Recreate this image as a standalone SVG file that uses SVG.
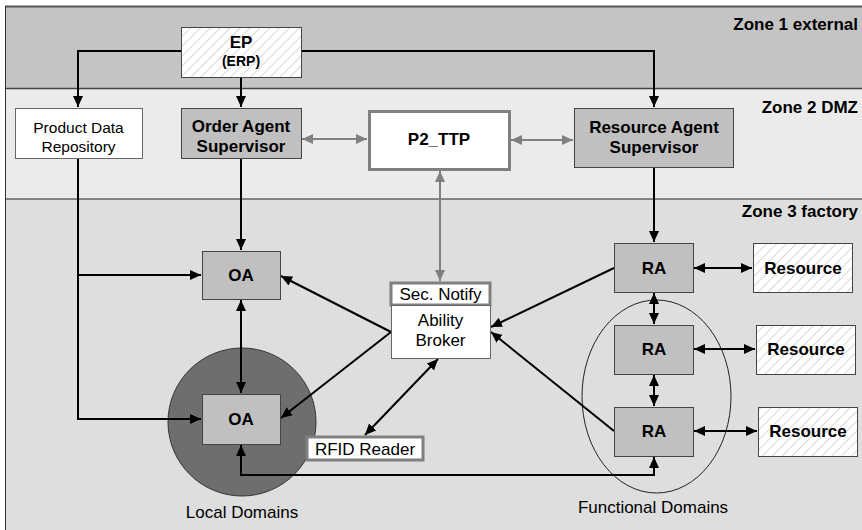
<svg xmlns="http://www.w3.org/2000/svg" width="862" height="530" viewBox="0 0 862 530">
<style>
text{font-family:"Liberation Sans",Arial,sans-serif;fill:#000}
.b{font-weight:bold;font-size:17px}
.n{font-size:17px}
.z{font-weight:bold;font-size:17px;text-anchor:end}
.c{text-anchor:middle}
.k{fill:none;stroke:#000;stroke-width:2}
.g{fill:none;stroke:#808080;stroke-width:2}
.node{fill:#c0c0c0;stroke:#444;stroke-width:1}
.white{fill:#fff;stroke:#666;stroke-width:1}
.hatch{fill:url(#hp);stroke:#444;stroke-width:1}
</style>
<defs>
<pattern id="hp" patternUnits="userSpaceOnUse" width="7" height="7" patternTransform="rotate(45)">
<rect width="7" height="7" fill="#fff"/>
<line x1="0" y1="0" x2="0" y2="7" stroke="#b0b0b0" stroke-width="1"/>
</pattern>
<marker id="ak" markerUnits="userSpaceOnUse" markerWidth="12" markerHeight="12" refX="11" refY="6" orient="auto-start-reverse" viewBox="0 0 12 12">
<path d="M0,1 L11,6 L0,11 z" fill="#000"/>
</marker>
<marker id="ag" markerUnits="userSpaceOnUse" markerWidth="12" markerHeight="12" refX="11" refY="6" orient="auto-start-reverse" viewBox="0 0 12 12">
<path d="M0,1 L11,6 L0,11 z" fill="#808080"/>
</marker>
</defs>
<rect width="862" height="530" fill="#fff"/>
<g id="zones">
<rect x="5" y="6.5" width="860" height="82" fill="#c4c4c4"/>
<rect x="5" y="88.5" width="860" height="110.5" fill="#ebebeb"/>
<rect x="5" y="199" width="860" height="335" fill="#dedede"/>
<line x1="5" y1="6.5" x2="862" y2="6.5" stroke="#555" stroke-width="2"/>
<line x1="5" y1="88.5" x2="862" y2="88.5" stroke="#444" stroke-width="1.5"/>
<line x1="5" y1="199" x2="862" y2="199" stroke="#222" stroke-width="1"/>
<line x1="5.5" y1="6" x2="5.5" y2="530" stroke="#333" stroke-width="1"/>
<text class="z" x="858" y="30">Zone 1 external</text>
<text class="z" x="858" y="113">Zone 2 DMZ</text>
<text class="z" x="858" y="217">Zone 3 factory</text>
</g>
<g id="local-domains">
<circle cx="242" cy="422" r="74" fill="#6e6e6e" stroke="#333" stroke-width="1"/>
<text class="n c" x="242" y="518">Local Domains</text>
</g>
<g id="functional-domains">
<ellipse cx="656.5" cy="396.5" rx="74.5" ry="96.5" fill="none" stroke="#222" stroke-width="1"/>
<text class="n c" x="653" y="513">Functional Domains</text>
</g>
<g id="connectors">
<path class="k" d="M181,51 H78 V107" marker-end="url(#ak)"/>
<path class="k" d="M241,77 V107" marker-end="url(#ak)"/>
<path class="k" d="M301,51 H654 V107" marker-end="url(#ak)"/>
<path class="g" d="M302,139 H367" marker-start="url(#ag)" marker-end="url(#ag)"/>
<path class="g" d="M511,140 H573" marker-start="url(#ag)" marker-end="url(#ag)"/>
<path class="g" d="M440,171 V281" marker-start="url(#ag)" marker-end="url(#ag)"/>
<path class="k" d="M241,158 V250" marker-end="url(#ak)"/>
<path class="k" d="M78,158 V419 H201" marker-end="url(#ak)"/>
<path class="k" d="M78,275 H201" marker-end="url(#ak)"/>
<path class="k" d="M241,300 V393" marker-start="url(#ak)" marker-end="url(#ak)"/>
<path class="k" d="M391,332 L281,276" marker-end="url(#ak)"/>
<path class="k" d="M391,332 L281,418" marker-end="url(#ak)"/>
<path class="k" d="M438,359 L365,435" marker-start="url(#ak)" marker-end="url(#ak)"/>
<path class="k" d="M241,445 V475 H654 V457" marker-start="url(#ak)" marker-end="url(#ak)"/>
<path class="k" d="M654,168 V242" marker-end="url(#ak)"/>
<path class="k" d="M654,293 V324" marker-start="url(#ak)" marker-end="url(#ak)"/>
<path class="k" d="M654,375 V406" marker-start="url(#ak)" marker-end="url(#ak)"/>
<path class="k" d="M694,268 H752" marker-start="url(#ak)" marker-end="url(#ak)"/>
<path class="k" d="M694,349 H755" marker-start="url(#ak)" marker-end="url(#ak)"/>
<path class="k" d="M694,431 H757" marker-start="url(#ak)" marker-end="url(#ak)"/>
<path class="k" d="M614,268 L491,327" marker-end="url(#ak)"/>
<path class="k" d="M614,431 L491,332" marker-end="url(#ak)"/>
</g>
<g id="ep">
<rect class="hatch" x="181.5" y="27.5" width="120" height="50"/>
<text class="b c" x="241" y="48" font-size="18">EP</text>
<text class="c" x="241" y="66" font-size="14" font-weight="bold">(ERP)</text>
</g>
<g id="pdr">
<rect class="white" x="15.5" y="108.5" width="127" height="50"/>
<text class="c" x="78.5" y="133" font-size="15.5">Product Data</text>
<text class="c" x="78.5" y="152" font-size="15.5">Repository</text>
</g>
<g id="oas">
<rect class="node" x="181.5" y="108.5" width="120" height="50"/>
<text class="b c" x="241" y="132">Order Agent</text>
<text class="b c" x="241" y="152">Supervisor</text>
</g>
<g id="p2ttp">
<rect x="369.5" y="111.5" width="140" height="58" fill="#fff" stroke="#808080" stroke-width="3"/>
<text class="b c" x="439" y="145">P2_TTP</text>
</g>
<g id="ras">
<rect class="node" x="574.5" y="108.5" width="159" height="59"/>
<text class="b c" x="654" y="133">Resource Agent</text>
<text class="b c" x="654" y="153">Supervisor</text>
</g>
<g id="oa1">
<rect class="node" x="202.5" y="251.5" width="78" height="48"/>
<text class="b c" x="241" y="281">OA</text>
</g>
<g id="oa2">
<rect class="node" x="202.5" y="394.5" width="78" height="50"/>
<text class="b c" x="241" y="425">OA</text>
</g>
<g id="sec-notify">
<rect x="391" y="283" width="99" height="22" fill="#fff" stroke="#808080" stroke-width="3"/>
<text class="n c" x="440.5" y="300">Sec. Notify</text>
</g>
<g id="ability-broker">
<rect class="white" x="391.5" y="305.5" width="99" height="53"/>
<text class="n c" x="440.5" y="326">Ability</text>
<text class="n c" x="440.5" y="346">Broker</text>
</g>
<g id="rfid">
<rect x="307" y="437" width="116" height="23" fill="#fff" stroke="#808080" stroke-width="3"/>
<text class="n c" x="365" y="454.5">RFID Reader</text>
</g>
<g id="ra1">
<rect class="node" x="614.5" y="243.5" width="79" height="49"/>
<text class="b c" x="654" y="274">RA</text>
</g>
<g id="ra2">
<rect class="node" x="614.5" y="325.5" width="79" height="49"/>
<text class="b c" x="654" y="355">RA</text>
</g>
<g id="ra3">
<rect class="node" x="614.5" y="407.5" width="79" height="49"/>
<text class="b c" x="654" y="437">RA</text>
</g>
<g id="res1">
<rect class="hatch" x="753.5" y="243.5" width="99" height="49"/>
<text class="b c" x="803" y="274">Resource</text>
</g>
<g id="res2">
<rect class="hatch" x="756.5" y="325.5" width="99" height="49"/>
<text class="b c" x="806" y="355">Resource</text>
</g>
<g id="res3">
<rect class="hatch" x="758.5" y="407.5" width="99" height="49"/>
<text class="b c" x="808" y="437">Resource</text>
</g>
</svg>
